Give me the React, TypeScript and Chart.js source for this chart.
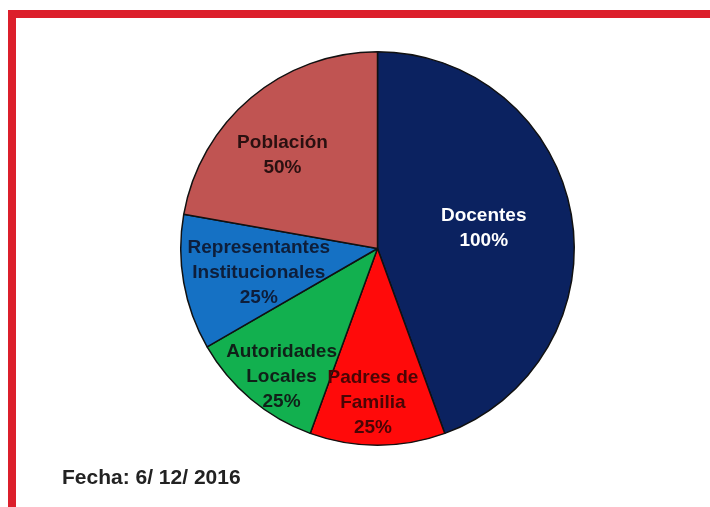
import React, { useEffect, useRef } from "react";
import { Chart, registerables } from "chart.js";

Chart.register(...registerables);

const categories: string[][] = [
  ["Docentes"],
  ["Padres de", "Familia"],
  ["Autoridades", "Locales"],
  ["Representantes", "Institucionales"],
  ["Población"],
];
const values: number[] = [100, 25, 25, 25, 50];
const percentLabels: string[] = ["100%", "25%", "25%", "25%", "50%"];
const sliceColors: string[] = ["#0b2260", "#ff0a0a", "#12b04f", "#1571c4", "#c05452"];
const labelColors: string[] = ["#ffffff", "#4a0505", "#102018", "#0e1e3a", "#2a1010"];
const labelRadius: number[] = [0.55, 0.785, 0.816, 0.616, 0.677];
const labelAngleShift: number[] = [-1, 1.7, -3.3, -1.6, -5.5];
const dateText = "Fecha: 6/ 12/ 2016";

const labelPlugin = {
  id: "sliceLabels",
  afterDatasetsDraw(chart: any) {
    const meta = chart.getDatasetMeta(0);
    const ctx = chart.ctx;
    ctx.save();
    ctx.font = "bold 19px 'Liberation Sans', Arial, sans-serif";
    ctx.textAlign = "center";
    ctx.textBaseline = "middle";
    meta.data.forEach((arc: any, i: number) => {
      const p = arc.getProps(["x", "y", "startAngle", "endAngle", "outerRadius"], true);
      const mid = (p.startAngle + p.endAngle) / 2 + (labelAngleShift[i] * Math.PI) / 180;
      const r = p.outerRadius * labelRadius[i];
      const cx = p.x + Math.cos(mid) * r;
      const cy = p.y + Math.sin(mid) * r;
      const lines = [...categories[i], percentLabels[i]];
      const lh = 25;
      const y0 = cy - ((lines.length - 1) * lh) / 2;
      ctx.fillStyle = labelColors[i];
      lines.forEach((t, k) => ctx.fillText(t, cx, y0 + k * lh));
    });
    ctx.restore();
  },
};

export default function App() {
  const ref = useRef<HTMLCanvasElement | null>(null);
  useEffect(() => {
    if (!ref.current) return;
    const chart = new Chart(ref.current, {
      type: "pie",
      data: {
        labels: categories.map((c) => c.join(" ")),
        datasets: [
          {
            data: values,
            backgroundColor: sliceColors,
            borderColor: "#111111",
            borderWidth: 1.5,
          },
        ],
      },
      options: {
        responsive: false,
        animation: false,
        layout: { padding: { left: 178, right: 133, top: 51, bottom: 61 } },
        plugins: { legend: { display: false }, tooltip: { enabled: false } },
      },
      plugins: [labelPlugin],
    });
    return () => chart.destroy();
  }, []);
  return (
    <div style={{ position: "absolute", left: 0, top: 0, width: 710, height: 507, background: "#fff", overflow: "hidden" }}>
      <div
        style={{
          position: "absolute",
          left: 8,
          top: 10,
          width: 710,
          height: 494,
          borderLeft: "8px solid #dc1f2b",
          borderTop: "8px solid #dc1f2b",
          borderBottom: "2px solid #f6b8b2",
        }}
      />
      <canvas ref={ref} width={710} height={507} style={{ position: "absolute", left: 0, top: 0 }} />
      <div
        style={{
          position: "absolute",
          left: 62,
          top: 465,
          fontFamily: "'Liberation Sans', Arial, sans-serif",
          fontWeight: "bold",
          fontSize: 21,
          lineHeight: "24px",
          color: "#222",
          whiteSpace: "pre",
        }}
      >
        {dateText}
      </div>
    </div>
  );
}
